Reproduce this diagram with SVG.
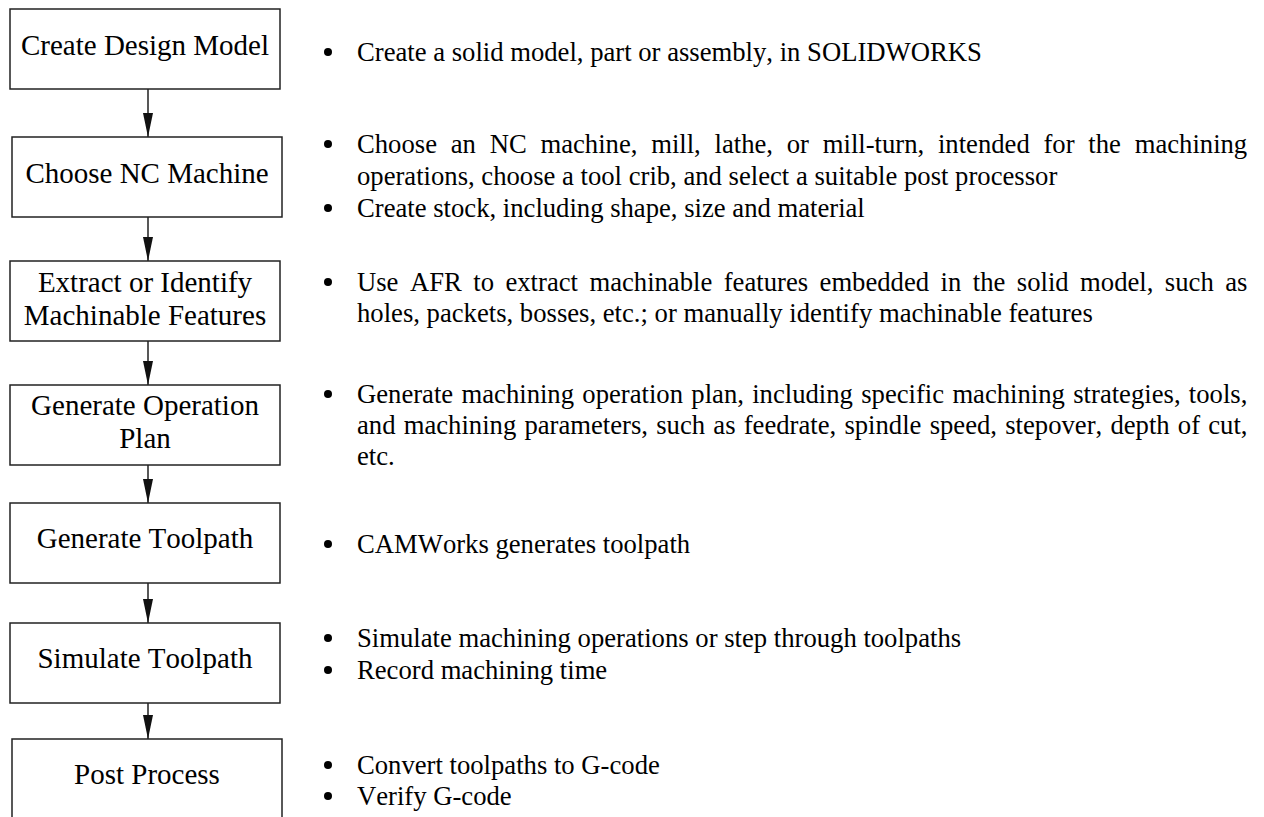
<svg xmlns="http://www.w3.org/2000/svg" width="1264" height="817" viewBox="0 0 1264 817">
  <style>
    .box { fill: #fff; stroke: #222; stroke-width: 1.5; }
    .lbl { font-family: "Liberation Serif", "Times New Roman", serif; font-size: 29px; fill: #000; text-anchor: middle; font-kerning: none; }
    .txt { font-family: "Liberation Serif", "Times New Roman", serif; font-size: 26.67px; fill: #000; font-kerning: none; }
    .edge { stroke: #111; stroke-width: 1.4; fill: none; marker-end: url(#arr); }
    .dot { fill: #000; }
  </style>
  <defs>
    <marker id="arr" viewBox="0 0 24 10" refX="24" refY="5" markerWidth="24" markerHeight="10" markerUnits="userSpaceOnUse" orient="auto">
      <path d="M0,0 L24,5 L0,10 Z" fill="#111"/>
    </marker>
  </defs>
  <rect width="1264" height="817" fill="#fff"/>

  <g id="connectors">
    <line class="edge" x1="148" y1="89" x2="148" y2="137"/>
    <line class="edge" x1="148" y1="217" x2="148" y2="261"/>
    <line class="edge" x1="148" y1="341" x2="148" y2="385"/>
    <line class="edge" x1="148" y1="465" x2="148" y2="503"/>
    <line class="edge" x1="148" y1="583" x2="148" y2="623"/>
    <line class="edge" x1="148" y1="703" x2="148" y2="739"/>
  </g>

  <g id="node-create-design-model">
    <rect class="box" x="10" y="9" width="270" height="80"/>
    <text class="lbl" x="145" y="55">Create Design Model</text>
  </g>
  <g id="node-choose-nc-machine">
    <rect class="box" x="12" y="137" width="270" height="80"/>
    <text class="lbl" x="147" y="183">Choose NC Machine</text>
  </g>
  <g id="node-extract-features">
    <rect class="box" x="10" y="261" width="270" height="80"/>
    <text class="lbl" x="145" y="292">Extract or Identify</text>
    <text class="lbl" x="145" y="325">Machinable Features</text>
  </g>
  <g id="node-generate-operation-plan">
    <rect class="box" x="10" y="385" width="270" height="80"/>
    <text class="lbl" x="145" y="415">Generate Operation</text>
    <text class="lbl" x="145" y="448">Plan</text>
  </g>
  <g id="node-generate-toolpath">
    <rect class="box" x="10" y="503" width="270" height="80"/>
    <text class="lbl" x="145" y="548">Generate Toolpath</text>
  </g>
  <g id="node-simulate-toolpath">
    <rect class="box" x="10" y="623" width="270" height="80"/>
    <text class="lbl" x="145" y="668">Simulate Toolpath</text>
  </g>
  <g id="node-post-process">
    <rect class="box" x="12" y="739" width="270" height="90"/>
    <text class="lbl" x="147" y="784">Post Process</text>
  </g>

  <g id="notes">
    <circle class="dot" cx="328" cy="52" r="4"/>
    <text class="txt" x="357" y="61">Create a solid model, part or assembly, in SOLIDWORKS</text>

    <circle class="dot" cx="328" cy="144" r="4"/>
    <text class="txt" x="357" y="153" style="word-spacing:7.1px">Choose an NC machine, mill, lathe, or mill-turn, intended for the machining</text>
    <text class="txt" x="357" y="185">operations, choose a tool crib, and select a suitable post processor</text>
    <circle class="dot" cx="328" cy="208" r="4"/>
    <text class="txt" x="357" y="217">Create stock, including shape, size and material</text>

    <circle class="dot" cx="328" cy="282" r="4"/>
    <text class="txt" x="357" y="291" style="word-spacing:4.8px">Use AFR to extract machinable features embedded in the solid model, such as</text>
    <text class="txt" x="357" y="322">holes, packets, bosses, etc.; or manually identify machinable features</text>

    <circle class="dot" cx="328" cy="394" r="4"/>
    <text class="txt" x="357" y="403" style="word-spacing:1.65px">Generate machining operation plan, including specific machining strategies, tools,</text>
    <text class="txt" x="357" y="434" style="word-spacing:1.55px">and machining parameters, such as feedrate, spindle speed, stepover, depth of cut,</text>
    <text class="txt" x="357" y="465">etc.</text>

    <circle class="dot" cx="328" cy="544" r="4"/>
    <text class="txt" x="357" y="553">CAMWorks generates toolpath</text>

    <circle class="dot" cx="328" cy="638" r="4"/>
    <text class="txt" x="357" y="647">Simulate machining operations or step through toolpaths</text>
    <circle class="dot" cx="328" cy="670" r="4"/>
    <text class="txt" x="357" y="679">Record machining time</text>

    <circle class="dot" cx="328" cy="765" r="4"/>
    <text class="txt" x="357" y="774">Convert toolpaths to G-code</text>
    <circle class="dot" cx="328" cy="796" r="4"/>
    <text class="txt" x="357" y="805">Verify G-code</text>
  </g>
</svg>
